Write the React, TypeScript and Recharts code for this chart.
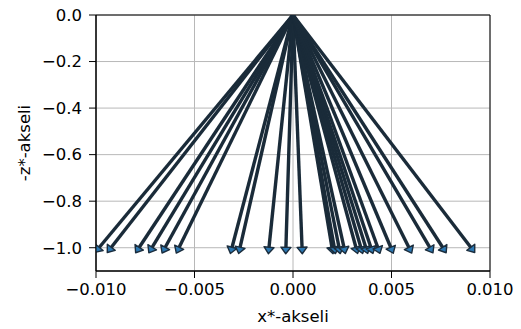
import React from "react";
import {
  ComposedChart,
  Line,
  XAxis,
  YAxis,
  CartesianGrid,
  ReferenceArea,
} from "recharts";

// arrow end points (x*, z*) ; all arrows start at the origin
const xEnds = [
  -0.00985, -0.00924, -0.00782, -0.00716, -0.0065, -0.00579, -0.0031,
  -0.00269, -0.00122, -0.00036, 0.00046, 0.00198, 0.0021, 0.00234, 0.00259,
  0.0032, 0.00345, 0.0037, 0.00396, 0.00431, 0.00497, 0.00589, 0.00695,
  0.00761, 0.00904,
];
const zEnd = -1.0;
const origin = { x: 0, y: 0 };

const xTicks = [-0.01, -0.005, 0, 0.005, 0.01];
const yTicks = [0, -0.2, -0.4, -0.6, -0.8, -1.0];

const FONT = "DejaVu Sans";
const FS = 16.5;

const fmtX = (v: number) =>
  v === 0 ? "0.000" : (v < 0 ? "\u2212" : "") + Math.abs(v).toFixed(3);
const fmtY = (v: number) =>
  Math.abs(v) < 1e-9 ? "0.0" : (v < 0 ? "\u2212" : "") + Math.abs(v).toFixed(1);

export default function App() {
  const tickStyle = { fill: "#000", fontFamily: FONT, fontSize: FS };
  return (
    <div style={{ position: "absolute", left: 0, top: 0, width: 521, height: 329, background: "#fff" }}>
      <svg width={0} height={0} style={{ position: "absolute" }}>
        <defs>
          <marker
            id="arrowHead"
            markerUnits="userSpaceOnUse"
            viewBox="-2 -7 11 14"
            markerWidth={11}
            markerHeight={14}
            refX={0}
            refY={0}
            orient="auto"
          >
            <path d="M-0.5,-5 L6,0 L-0.5,5 Z" fill="#2c78b2" stroke="#1b2d3d" strokeWidth={1.4} strokeLinejoin="round" />
          </marker>
        </defs>
      </svg>
      <ComposedChart
        width={521}
        height={329}
        margin={{ top: 15, right: 31, left: 0, bottom: 0 }}
      >
        <CartesianGrid stroke="#b8b8b8" strokeWidth={1} />
        <XAxis
          type="number"
          dataKey="x"
          domain={[-0.01, 0.01]}
          ticks={xTicks}
          tickFormatter={fmtX}
          allowDataOverflow
          height={58}
          tickSize={7}
          tickMargin={5}
          stroke="#000"
          tick={tickStyle}
          tickLine={{ stroke: "#000" }}
          axisLine={{ stroke: "#000" }}
          label={{
            value: "x*-akseli",
            position: "insideBottom",
            offset: 7,
            style: { fill: "#000", fontFamily: FONT, fontSize: FS },
          }}
        />
        <YAxis
          type="number"
          domain={[-1.1, 0]}
          ticks={yTicks}
          tickFormatter={fmtY}
          allowDataOverflow
          width={96}
          tickSize={7}
          tickMargin={7}
          stroke="#000"
          tick={tickStyle}
          tickLine={{ stroke: "#000" }}
          axisLine={{ stroke: "#000" }}
          label={{
            value: "-z*-akseli",
            angle: -90,
            position: "insideLeft",
            offset: 24,
            style: { fill: "#000", fontFamily: FONT, fontSize: FS, textAnchor: "middle" },
          }}
        />
        {xEnds.map((xe, i) => (
          <Line
            key={i}
            data={[origin, { x: xe, y: zEnd }]}
            dataKey="y"
            type="linear"
            stroke="#1a2b39"
            strokeWidth={3.4}
            dot={false}
            activeDot={false}
            isAnimationActive={false}
            markerEnd="url(#arrowHead)"
          />
        ))}
        <ReferenceArea
          x1={-0.01}
          x2={0.01}
          y1={-1.1}
          y2={0}
          fill="none"
          fillOpacity={0}
          stroke="#000"
          strokeWidth={1}
          ifOverflow="visible"
        />
      </ComposedChart>
    </div>
  );
}
